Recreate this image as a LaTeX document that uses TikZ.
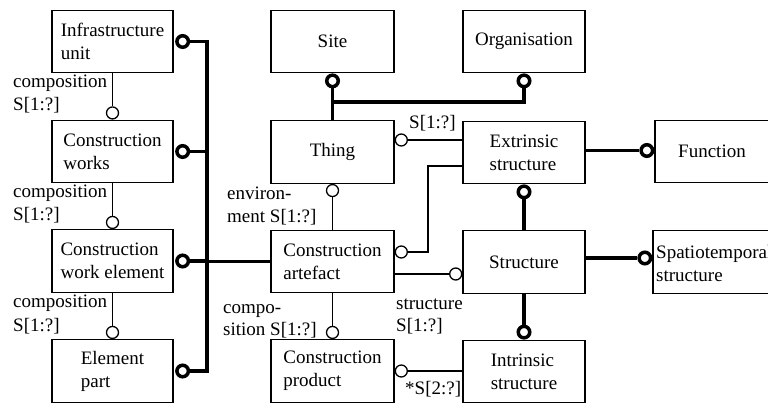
\documentclass[tikz,border=0pt]{standalone}
\usepackage{fontspec}
\setmainfont{Liberation Serif}
\usetikzlibrary{calc}
\begin{document}
\begin{tikzpicture}[x=1pt,y=-1pt,
  box/.style={draw, line width=1.3pt, minimum width=121pt, minimum height=62.5pt, align=left, inner sep=2pt, font=\fontsize{19}{23}\selectfont},
  lbl/.style={inner sep=0pt, anchor=base west, font=\fontsize{19}{23}\selectfont},
  oc/.style={circle, draw, line width=1.3pt, fill=white, minimum size=12pt, inner sep=0pt},
  tc/.style={circle, draw, line width=3.5pt, fill=white, minimum size=11.5pt, inner sep=0pt},
  ln/.style={line width=1.3pt},
  tk/.style={line width=3.8pt},
]
\clip (0,0) rectangle (768,403);
% left column
\node[box] (iu) at (112.5,41.5) {Infrastructure\\unit};
\node[box] (cw) at (112.5,151.5) {Construction\\works};
\node[box] (cwe) at (112.5,261) {Construction\\work element};
\node[box] (ep) at (112.5,371) {Element\\part};
% middle column
\node[box, minimum width=123pt] (site) at (332.5,41.5) {Site};
\node[box, minimum width=123pt] (thing) at (332.5,152) {Thing};
\node[box, minimum width=123pt] (ca) at (332.5,261.5) {Construction\\artefact};
\node[box, minimum width=123pt] (cp) at (332.5,371) {Construction\\product};
% right column
\node[box, minimum width=122pt] (org) at (524,41.5) {Organisation};
\node[box, minimum width=122pt] (ext) at (524,152.5) {Extrinsic\\structure};
\node[box, minimum width=122pt] (st) at (524,262) {Structure};
\node[box, minimum width=122pt] (is) at (524,371.5) {Intrinsic\\structure};
% far right
\node[box, minimum width=114pt] (fn) at (712,151.5) {Function};
\node[box, minimum width=116pt] (sp) at (711,262) {};
\node[lbl, anchor=west, align=left] (spt) at (656,264) {Spatiotemporal\\structure};

% left composition links
\node[oc, anchor=south] (c1) at (cw.north) {};
\node[oc, anchor=south] (c2) at (cwe.north) {};
\node[oc, anchor=south] (c3) at (ep.north) {};
\draw[ln] (iu.south) -- (c1);
\draw[ln] (cw.south) -- (c2);
\draw[ln] (cwe.south) -- (c3);
\node[lbl] (l1a) at (13,88) {composition};
\node[lbl] (l1b) at (13,111) {S[1:?]};
\node[lbl] (l2a) at (13,198) {composition};
\node[lbl] (l2b) at (13,221) {S[1:?]};
\node[lbl] (l3a) at (13,308) {composition};
\node[lbl] (l3b) at (13,331) {S[1:?]};

% bus
\node[tc, anchor=west, xshift=1.5pt] (t1) at (iu.east) {};
\node[tc, anchor=west, xshift=1.5pt] (t2) at (cw.east) {};
\node[tc, anchor=west, xshift=1.5pt] (t3) at (cwe.east) {};
\node[tc, anchor=west, xshift=1.5pt] (t4) at (ep.east) {};
\coordinate (bb) at (207,371);
\draw[tk] (t1) -- (t1 -| bb) -- (t4 -| bb) -- (t4);
\draw[tk] (t2) -- (t2 -| bb);
\draw[tk] (t3) -- (t3 -| bb);
\draw[tk] (ca.west) -- (ca.west -| bb);

% site / organisation
\node[tc, anchor=north] (tsite) at (site.south) {};
\node[tc, anchor=north] (torg) at (org.south) {};
\coordinate (j) at (332.5,102);
\draw[tk] (tsite) -- (thing.north);
\draw[tk] (j) -| (torg);

% thing - extrinsic
\node[oc, anchor=west, yshift=12pt] (cth) at (thing.east) {};
\draw[ln] (cth) -- (cth -| ext.west);
\node[lbl] (lth) at (409,129) {S[1:?]};

% thing - artefact
\node[oc, anchor=north] (ctb) at (thing.south) {};
\draw[ln] (ctb) -- (ca.north);
\node[lbl] (le1) at (227,200) {environ-};
\node[lbl] (le2) at (227,223) {ment S[1:?]};

% artefact - extrinsic
\node[oc, anchor=west, yshift=9.5pt] (cca) at (ca.east) {};
\coordinate (kx) at (428,166);
\draw[ln] (cca) -| (kx) -- (kx -| ext.west);

% artefact - structure
\node[oc, anchor=east, yshift=-12pt] (cst) at (st.west) {};
\draw[ln] (cst) -- (cst -| ca.east);
\node[lbl] (ls1) at (396,309) {structure};
\node[lbl] (ls2) at (396,331) {S[1:?]};

% artefact - product
\node[oc, anchor=south] (ccp) at (cp.north) {};
\draw[ln] (ca.south) -- (ccp);
\node[lbl] (lc1) at (223,313) {compo-};
\node[lbl] (lc2) at (223,335) {sition S[1:?]};

% product - intrinsic
\node[oc, anchor=west] (cpr) at (cp.east) {};
\draw[ln] (cpr) -- (cpr -| is.west);
\node[lbl] (lp) at (405,394) {*S[2:?]};

% extrinsic - structure - intrinsic
\node[tc, anchor=north] (teb) at (ext.south) {};
\draw[tk] (teb) -- (st.north);
\node[tc, anchor=south] (tis) at (is.north) {};
\draw[tk] (st.south) -- (tis);

% function / spatiotemporal
\node[tc, anchor=east, yshift=1pt] (tfn) at (fn.west) {};
\draw[tk] (ext.east |- tfn) -- (tfn);
\node[tc, anchor=east, yshift=4pt] (tsp) at (sp.west) {};
\draw[tk] (st.east |- tsp) -- (tsp);
\end{tikzpicture}
\end{document}
